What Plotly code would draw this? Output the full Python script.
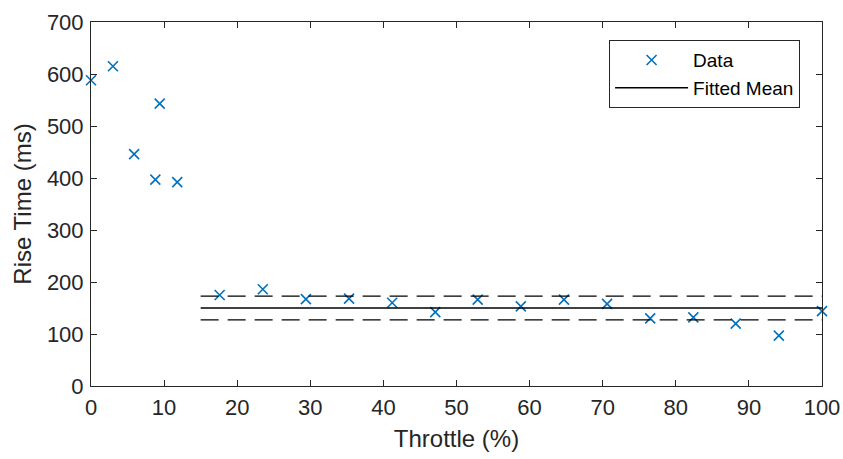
import plotly.graph_objects as go

throttle = [0, 3.0, 5.9, 8.8, 9.4, 11.8, 17.6, 23.5, 29.4, 35.3, 41.2, 47.1, 52.9, 58.8, 64.7, 70.6, 76.5, 82.4, 88.2, 94.1, 100]
rise_time = [588, 615, 446, 397, 543, 392, 175, 186, 167, 168, 160, 142, 166, 153, 166, 158, 130, 132, 120, 97, 144]
fit_x = [15, 100]
fit_mean = 150
fit_upper = 173
fit_lower = 127

BLUE = "#0072BD"
fig = go.Figure()
fig.add_trace(go.Scatter(x=throttle, y=rise_time, mode="markers", name="Data",
                         marker=dict(symbol="x-thin", size=10, color=BLUE,
                                     line=dict(width=1.6, color=BLUE)),
                         cliponaxis=False))
fig.add_trace(go.Scatter(x=fit_x, y=[fit_mean, fit_mean], mode="lines", name="Fitted Mean",
                         line=dict(color="black", width=1.3)))
for v in (fit_upper, fit_lower):
    fig.add_trace(go.Scatter(x=fit_x, y=[v, v], mode="lines", showlegend=False,
                             line=dict(color="black", width=1.3, dash="18px,9px")))

axis_common = dict(showline=True, linecolor="#262626", linewidth=1, mirror="ticks",
                   ticks="inside", ticklen=6, tickcolor="#262626", showgrid=False,
                   zeroline=False, automargin=False, tickfont=dict(size=22, color="#262626"),
                   title_font=dict(size=24, color="#262626"))
fig.update_xaxes(range=[0, 100], dtick=10, title_text="Throttle (%)", title_standoff=10,
                 ticklabelstandoff=2, **axis_common)
fig.update_yaxes(range=[0, 700], dtick=100, title_text="Rise Time (ms)", title_standoff=8,
                 ticklabelstandoff=2, **axis_common)

fig.update_layout(width=843, height=459, plot_bgcolor="white", paper_bgcolor="white",
                  margin=dict(l=91, r=21, t=22, b=73),
                  font=dict(family="Liberation Sans, Arial, sans-serif", color="#262626"),
                  legend=dict(x=0.97, y=0.95, xanchor="right", yanchor="top",
                              bgcolor="white", bordercolor="#262626", borderwidth=1,
                              font=dict(size=19, color="black"), itemwidth=73,
                              tracegroupgap=0))
fig.write_html("out.html")
